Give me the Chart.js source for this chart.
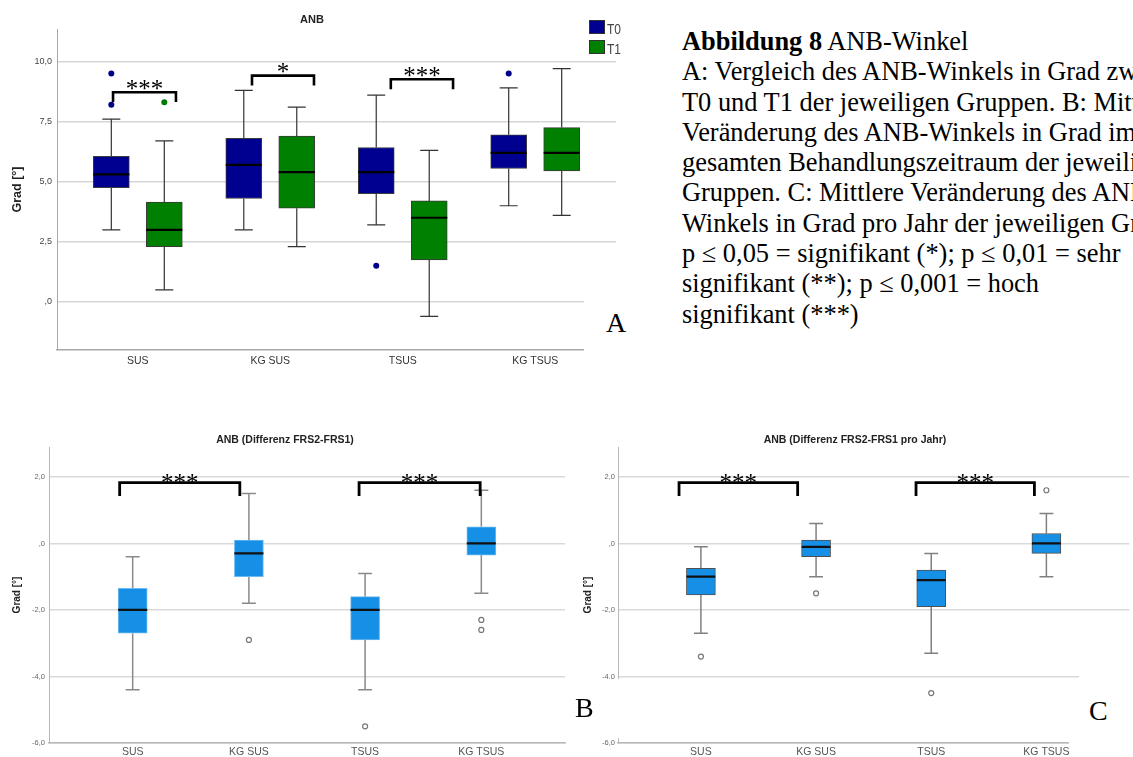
<!DOCTYPE html>
<html><head><meta charset="utf-8">
<script src="https://cdn.jsdelivr.net/npm/chart.js@4.4.1/dist/chart.umd.min.js"></script>
<style>
html,body{margin:0;padding:0;background:#fff;width:1133px;height:757px;overflow:hidden;position:relative;}
canvas{position:absolute;}
.cap{position:absolute;left:682px;top:26px;font-family:"Liberation Serif","Times New Roman",serif;font-size:26.4px;line-height:30.3px;color:#000;white-space:nowrap;}
.lbl{position:absolute;font-family:"Liberation Serif","Times New Roman",serif;font-size:28px;line-height:28px;color:#000;}
.cover{position:absolute;background:#fff;}
.sq{position:absolute;left:589px;width:16px;height:14px;box-sizing:border-box;border:1px solid #333;}
.lt{position:absolute;left:607px;font-family:"Liberation Sans",Arial,sans-serif;font-size:15px;line-height:15px;color:#444;transform:scaleX(0.8);transform-origin:left center;}
</style></head>
<body>
<canvas id="cA" width="640" height="380" style="left:0;top:0"></canvas>
<canvas id="cB" width="580" height="337" style="left:0;top:420px"></canvas>
<canvas id="cC" width="553" height="337" style="left:580px;top:420px"></canvas>

<div class="sq" style="top:20px;background:#000090"></div>
<div class="lt" style="top:21px">T0</div>
<div class="sq" style="top:40px;background:#008000"></div>
<div class="lt" style="top:41px">T1</div>

<div class="cap">
<div><b>Abbildung 8</b> ANB-Winkel</div>
<div>A: Vergleich des ANB-Winkels in Grad zwischen</div>
<div>T0 und T1 der jeweiligen Gruppen. B: Mittlere</div>
<div>Veränderung des ANB-Winkels in Grad im</div>
<div>gesamten Behandlungszeitraum der jeweiligen</div>
<div>Gruppen. C: Mittlere Veränderung des ANB-</div>
<div>Winkels in Grad pro Jahr der jeweiligen Gruppen.</div>
<div>p ≤ 0,05 = signifikant (*); p ≤ 0,01 = sehr</div>
<div>signifikant (**); p ≤ 0,001 = hoch</div>
<div>signifikant (***)</div>
</div>

<div class="cover" style="left:584px;top:262px;width:56px;height:118px"></div>
<div class="cover" style="left:596px;top:679px;width:24px;height:59px"></div>
<div class="cover" style="left:1079px;top:650px;width:54px;height:107px"></div>
<div class="cover" style="left:1069px;top:736px;width:10px;height:11px"></div>
<div class="lbl" style="left:606px;top:309px">A</div>
<div class="lbl" style="left:575px;top:694px">B</div>
<div class="lbl" style="left:1089px;top:697px">C</div>

<script>
// ---------- data ----------
const categories = ['SUS', 'KG SUS', 'TSUS', 'KG TSUS'];
const catIndex = [1, 2, 3, 4];

// Panel A (ANB, T0 vs T1)
const yTickValsA = [10, 7.5, 5, 2.5, 0];
const yTickLabelsA = ['10,0', '7,5', '5,0', '2,5', ',0'];
const t0Low = [3.0, 3.0, 3.2, 4.0];
const t0Q1 = [4.75, 4.3, 4.5, 5.55];
const t0Median = [5.3, 5.7, 5.4, 6.2];
const t0Q3 = [6.05, 6.8, 6.42, 6.95];
const t0High = [7.6, 8.8, 8.6, 8.9];
const t0Outliers = [[9.5, 8.2], [], [1.5], [9.5]];
const t1Low = [0.5, 2.3, -0.6, 3.6];
const t1Q1 = [2.3, 3.9, 1.75, 5.45];
const t1Median = [3.0, 5.4, 3.5, 6.2];
const t1Q3 = [4.15, 6.9, 4.2, 7.25];
const t1High = [6.7, 8.1, 6.3, 9.7];
const t1Outliers = [[8.3], [], [], []];
const sigFromA = [0.813, 1.862, 2.91];
const sigToA = [1.288, 2.33, 3.38];
const sigTopA = [8.72, 9.41, 9.26];
const sigLegA = [8.31, 9.0, 8.84];
const sigLabelA = ['***', '*', '***'];

// Panel B (Differenz FRS2-FRS1)
const yTickValsBC = [2, 0, -2, -4, -6];
const yTickLabelsBC = ['2,0', ',0', '-2,0', '-4,0', '-6,0'];
const bLow = [-4.4, -1.8, -4.4, -1.5];
const bQ1 = [-2.7, -1.0, -2.9, -0.35];
const bMedian = [-2.0, -0.3, -2.0, 0.0];
const bQ3 = [-1.35, 0.1, -1.6, 0.5];
const bHigh = [-0.4, 1.5, -0.9, 1.6];
const bOutliers = [[], [-2.9], [-5.5], [-2.3, -2.6]];
const sigFromB = [0.888, 2.948];
const sigToB = [1.922, 3.99];
const sigTopB = [1.83, 1.83];
const sigLegB = [1.43, 1.43];
const sigLabelB = ['***', '***'];

// Panel C (Differenz FRS2-FRS1 pro Jahr)
const cLow = [-2.7, -1.0, -3.3, -1.0];
const cQ1 = [-1.55, -0.4, -1.9, -0.3];
const cMedian = [-1.0, -0.1, -1.1, 0.0];
const cQ3 = [-0.75, 0.1, -0.8, 0.3];
const cHigh = [-0.1, 0.6, -0.3, 0.9];
const cOutliers = [[-3.4], [-1.5], [-4.5], [1.6]];
const sigFromC = [0.81, 2.868];
const sigToC = [1.84, 3.896];
const sigTopC = [1.83, 1.83];
const sigLegC = [1.43, 1.43];
const sigLabelC = ['***', '***'];

// ---------- helpers ----------
Chart.defaults.font.family = '"Liberation Sans", Arial, sans-serif';

function boxData(pos, q1, q3) { return pos.map((p, i) => ({ x: p, y: [q1[i], q3[i]] })); }
function whiskerData(pos, lo, q1, q3, hi, cap) {
  const d = [];
  pos.forEach((p, i) => {
    d.push({ x: p, y: lo[i] }, { x: p, y: q1[i] }, { x: p, y: null });
    d.push({ x: p, y: q3[i] }, { x: p, y: hi[i] }, { x: p, y: null });
    d.push({ x: p - cap, y: lo[i] }, { x: p + cap, y: lo[i] }, { x: p, y: null });
    d.push({ x: p - cap, y: hi[i] }, { x: p + cap, y: hi[i] }, { x: p, y: null });
  });
  return d;
}
function medianData(pos, med, half) {
  const d = [];
  pos.forEach((p, i) => d.push({ x: p - half, y: med[i] }, { x: p + half, y: med[i] }, { x: p, y: null }));
  return d;
}
function outlierData(pos, outs) {
  const d = [];
  pos.forEach((p, i) => outs[i].forEach(v => d.push({ x: p, y: v })));
  return d;
}
function bracketData(from, to, top, leg) {
  const d = [];
  from.forEach((f, i) => d.push({ x: f, y: leg[i] }, { x: f, y: top[i] }, { x: to[i], y: top[i] }, { x: to[i], y: leg[i] }, { x: to[i], y: null }));
  return d;
}
function lineDs(data, color, width, order) {
  return { type: 'line', data, borderColor: color, borderWidth: width, pointRadius: 0, pointHoverRadius: 0, tension: 0, spanGaps: false, fill: false, order };
}
function boxDs(data, fill, border, thick) {
  return { type: 'bar', data, backgroundColor: fill, borderColor: border, borderWidth: 1, borderSkipped: false, grouped: false, barThickness: thick, order: 3 };
}
function outDs(data, fill, border, r, bw) {
  return { type: 'scatter', data, pointRadius: r, pointHoverRadius: r, pointBackgroundColor: fill, pointBorderColor: border, pointBorderWidth: bw, order: 0 };
}

const annot = {
  id: 'annot',
  afterDatasetsDraw(chart, args, o) {
    const { ctx } = chart; const x = chart.scales.x, y = chart.scales.y;
    ctx.save();
    ctx.fillStyle = '#000'; ctx.textAlign = 'center'; ctx.textBaseline = 'alphabetic';
    ctx.font = '25px "Liberation Serif", "Times New Roman", serif';
    o.from.forEach((f, i) => {
      ctx.fillText(o.labels[i], x.getPixelForValue((f + o.to[i]) / 2), y.getPixelForValue(o.top[i]) + o.starDy);
    });
    ctx.font = 'bold ' + o.titleSize + 'px "Liberation Sans", Arial, sans-serif';
    ctx.fillStyle = '#222'; ctx.textBaseline = 'middle';
    ctx.fillText(o.title, o.titleX, o.titleY);
    ctx.restore();
  }
};

function makeChart(id, c) {
  return new Chart(document.getElementById(id), {
    type: 'bar',
    data: { datasets: c.datasets },
    options: {
      responsive: false, animation: false, devicePixelRatio: 1, events: [],
      layout: { padding: c.padding },
      plugins: {
        legend: { display: false }, tooltip: { enabled: false }, title: { display: false },
        annot: c.annot
      },
      scales: {
        x: {
          type: 'linear', min: c.xMin, max: c.xMax, offset: false,
          afterBuildTicks: s => { s.ticks = catIndex.map(v => ({ value: v })); },
          afterFit: s => { s.height = c.xH; },
          grid: { display: false, offset: false, drawTicks: false },
          border: { display: true, color: c.axisColor, width: c.xAxisWidth },
          ticks: { callback: (v, i) => categories[i], font: { size: c.xFont }, color: c.xColor, padding: c.xPad, maxRotation: 0, autoSkip: false }
        },
        y: {
          type: 'linear', min: c.yMin, max: c.yMax,
          afterBuildTicks: s => { s.ticks = c.yVals.map(v => ({ value: v })); },
          afterFit: s => { s.width = c.yW; },
          grid: { color: c.gridColor, lineWidth: 1.5, drawTicks: false },
          border: { display: true, color: c.axisColor, width: 1 },
          ticks: { callback: (v, i) => c.yLabels[i], font: { size: c.yFont }, color: c.yColor, padding: c.yPad, autoSkip: false },
          title: { display: true, text: 'Grad [°]', font: { size: c.tFont, weight: 'bold' }, color: '#222', padding: { top: c.tPad, bottom: 0 } }
        }
      }
    },
    plugins: [annot]
  });
}

// ---------- Panel A ----------
const posT0 = catIndex.map(i => i - 0.2);
const posT1 = catIndex.map(i => i + 0.2);
makeChart('cA', {
  padding: { left: 0, top: 29, right: 24, bottom: 0 },
  xMin: 0.39, xMax: 4.61, yMin: -2, yMax: 11.35, xH: 30, yW: 57,
  yVals: yTickValsA, yLabels: yTickLabelsA,
  axisColor: '#a8a8a8', xAxisWidth: 1.5, gridColor: '#d6d6d6',
  xFont: 10.5, xColor: '#333', xPad: 5, yFont: 9, yColor: '#444', yPad: 5, tFont: 12.5, tPad: 10,
  annot: { from: sigFromA, to: sigToA, top: sigTopA, labels: sigLabelA, starDy: 4.5, title: 'ANB', titleX: 312, titleY: 20, titleSize: 11 },
  datasets: [
    lineDs(medianData(posT0, t0Median, 0.136), '#000', 2.2, 0),
    lineDs(medianData(posT1, t1Median, 0.136), '#000', 2.2, 0),
    boxDs(boxData(posT0, t0Q1, t0Q3), '#000090', '#3a3a3a', 36),
    boxDs(boxData(posT1, t1Q1, t1Q3), '#008000', '#3a3a3a', 36),
    lineDs(whiskerData(posT0, t0Low, t0Q1, t0Q3, t0High, 0.068), '#333', 1.2, 4),
    lineDs(whiskerData(posT1, t1Low, t1Q1, t1Q3, t1High, 0.068), '#333', 1.2, 4),
    outDs(outlierData(posT0, t0Outliers), '#000088', '#000088', 3, 0),
    outDs(outlierData(posT1, t1Outliers), '#007a00', '#007a00', 3, 0),
    lineDs(bracketData(sigFromA, sigToA, sigTopA, sigLegA), '#000', 2.6, 0)
  ]
});

// ---------- Panel B ----------
makeChart('cB', {
  padding: { left: 0, top: 27, right: 15, bottom: 0 },
  xMin: 0.28, xMax: 4.72, yMin: -6, yMax: 2.9, xH: 14, yW: 49,
  yVals: yTickValsBC, yLabels: yTickLabelsBC,
  axisColor: '#b8b8b8', xAxisWidth: 1.5, gridColor: '#d9d9d9',
  xFont: 10.5, xColor: '#555', xPad: 3, yFont: 7.5, yColor: '#666', yPad: 4, tFont: 10, tPad: 11,
  annot: { from: sigFromB, to: sigToB, top: sigTopB, labels: sigLabelB, starDy: 8.5, title: 'ANB (Differenz FRS2-FRS1)', titleX: 285, titleY: 20, titleSize: 10.5 },
  datasets: [
    lineDs(medianData(catIndex, bMedian, 0.125), '#111', 2.2, 0),
    boxDs(boxData(catIndex, bQ1, bQ3), '#1590E6', '#6cb8f0', 29),
    lineDs(whiskerData(catIndex, bLow, bQ1, bQ3, bHigh, 0.06), '#8a8a8a', 1.5, 4),
    outDs(outlierData(catIndex, bOutliers), '#fff', '#777', 2.5, 1.2),
    lineDs(bracketData(sigFromB, sigToB, sigTopB, sigLegB), '#000', 2.8, 0)
  ]
});

// ---------- Panel C ----------
makeChart('cC', {
  padding: { left: 0, top: 27, right: 0, bottom: 0 },
  xMin: 0.28, xMax: 4.72, yMin: -6, yMax: 2.9, xH: 14, yW: 38,
  yVals: yTickValsBC, yLabels: yTickLabelsBC,
  axisColor: '#b8b8b8', xAxisWidth: 1.5, gridColor: '#d9d9d9',
  xFont: 10.5, xColor: '#555', xPad: 3, yFont: 7.5, yColor: '#666', yPad: 3, tFont: 10, tPad: 2,
  annot: { from: sigFromC, to: sigToC, top: sigTopC, labels: sigLabelC, starDy: 8.5, title: 'ANB (Differenz FRS2-FRS1 pro Jahr)', titleX: 275, titleY: 20, titleSize: 10.5 },
  datasets: [
    lineDs(medianData(catIndex, cMedian, 0.125), '#111', 2.2, 0),
    boxDs(boxData(catIndex, cQ1, cQ3), '#1590E6', '#505050', 29),
    lineDs(whiskerData(catIndex, cLow, cQ1, cQ3, cHigh, 0.06), '#808080', 1.5, 4),
    outDs(outlierData(catIndex, cOutliers), '#fff', '#777', 2.5, 1.2),
    lineDs(bracketData(sigFromC, sigToC, sigTopC, sigLegC), '#000', 2.8, 0)
  ]
});
</script>
</body></html>
